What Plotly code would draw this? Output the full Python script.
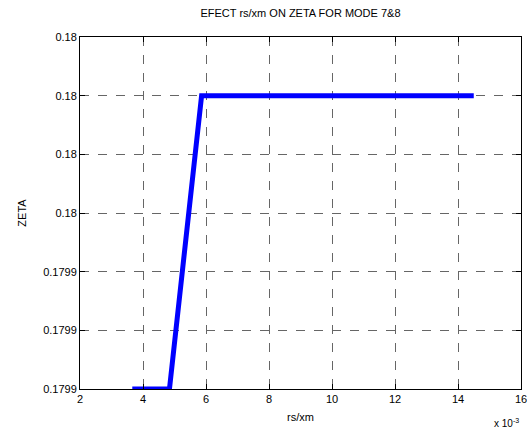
import plotly.graph_objects as go

rs_xm = [0.00366, 0.00484, 0.00586, 0.0145]
zeta = [0.17994, 0.17994, 0.17999, 0.17999]

x_ticks = [0.002, 0.004, 0.006, 0.008, 0.010, 0.012, 0.014, 0.016]
x_ticktext = ["2", "4", "6", "8", "10", "12", "14", "16"]
y_ticks = [0.17994, 0.17995, 0.17996, 0.17997, 0.17998, 0.17999, 0.18000]
y_ticktext = ["0.1799", "0.1799", "0.1799", "0.18", "0.18", "0.18", "0.18"]

FONT = "Liberation Sans, Arial"

fig = go.Figure()
fig.add_trace(go.Scatter(x=rs_xm, y=zeta, mode="lines",
                         line=dict(color="#0000FF", width=5), showlegend=False))

axis_common = dict(showline=True, linecolor="black", linewidth=1, mirror="ticks",
                   ticks="inside", ticklen=5, tickcolor="black",
                   showgrid=True, gridcolor="#666666", griddash="dash", gridwidth=1,
                   zeroline=False, ticklabeloverflow="allow", automargin=False,
                   tickfont=dict(family=FONT, size=11, color="black"))

fig.update_xaxes(range=[0.002, 0.0160001], tickvals=x_ticks, ticktext=x_ticktext,
                 title=dict(text="rs/xm", font=dict(family=FONT, size=11, color="black"), standoff=9),
                 **axis_common)
fig.update_yaxes(range=[0.17994, 0.18000], tickvals=y_ticks, ticktext=y_ticktext,
                 title=dict(text="ZETA", font=dict(family=FONT, size=11, color="black"), standoff=14),
                 **axis_common)

fig.update_layout(
    width=527, height=430,
    margin=dict(l=80, r=6, t=37, b=41, autoexpand=False),
    paper_bgcolor="white", plot_bgcolor="white",
    title=dict(text="EFECT rs/xm ON ZETA FOR MODE 7&8", x=0.5, xanchor="center",
               xref="paper", y=1 - 13 / 430, yanchor="middle", automargin=False,
               font=dict(family=FONT, size=11, color="black")),
    annotations=[dict(text="x 10<sup>-3</sup>", x=1.0, xref="paper", xanchor="right",
                      y=-0.098, yref="paper", yanchor="middle", showarrow=False,
                      font=dict(family=FONT, size=10, color="black"))],
)

fig.write_html("out.html")
